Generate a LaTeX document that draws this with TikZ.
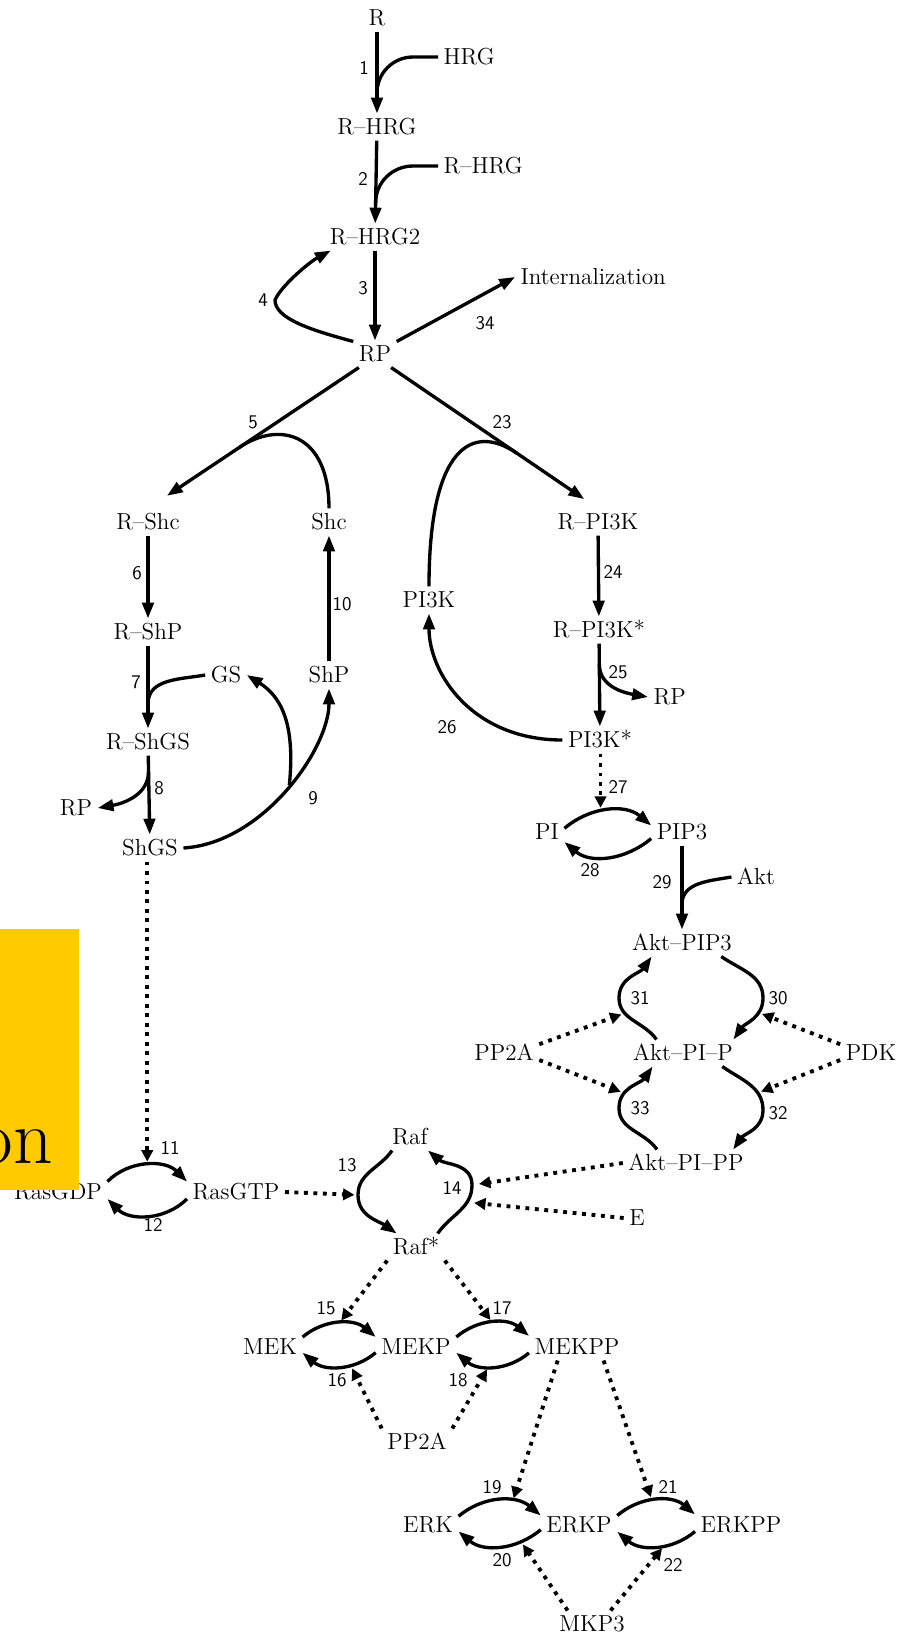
\documentclass[tikz,border=0pt]{standalone}
\usepackage{tikz}
\usetikzlibrary{arrows.meta}

\definecolor{boxyellow}{RGB}{255,203,0}

\tikzset{
  species/.style={inner sep=3pt, text height=9pt, text depth=0pt, font=\fontsize{13.2}{15}\selectfont},
  rnum/.style={inner sep=0pt, font=\sffamily\fontsize{11}{12}\selectfont},
  rx/.style={line width=1.9pt, -{Triangle[length=9pt,width=6.5pt]}},
  plain/.style={line width=1.9pt},
  cat/.style={line width=2.2pt, dash pattern=on 2.2pt off 3.2pt, -{Triangle[length=6.5pt,width=6.5pt]}, shorten >=2pt},
}

\begin{document}
\begin{tikzpicture}[x=0.02cm,y=-0.02cm]
\useasboundingbox (0,0) rectangle (915,1637);

% species
\node[species] (R) at (377,18) {R};
\node[species,anchor=west] (HRG) at (438,57) {HRG};
\node[species] (RHRG) at (377,127) {R--HRG};
\node[species,anchor=west] (RHRGb) at (438,166) {R--HRG};
\node[species] (RHRG2) at (375,237) {R--HRG2};
\node[species] (RP) at (375,354) {RP};
\node[species,anchor=west] (Intl) at (515,277) {Internalization};
\node[species] (RShc) at (148,522) {R--Shc};
\node[species] (Shc) at (329,522) {Shc};
\node[species] (RPI3K) at (598,522) {R--PI3K};
\node[species] (PI3K) at (429,600) {PI3K};
\node[species] (RShP) at (148,632) {R--ShP};
\node[species] (RPI3Ks) at (599,630) {R--PI3K*};
\node[species] (GS) at (226,675) {GS};
\node[species] (ShP) at (329,675) {ShP};
\node[species,anchor=west] (RPb) at (648,697) {RP};
\node[species] (RShGS) at (148,742) {R--ShGS};
\node[species] (PI3Ks) at (600,740) {PI3K*};
\node[species] (RPa) at (76,808) {RP};
\node[species] (ShGS) at (150,848) {ShGS};
\node[species] (PI) at (547,832) {PI};
\node[species] (PIP3) at (682,832) {PIP3};
\node[species] (Akt) at (756,877) {Akt};
\node[species] (AktPIP3) at (682,943) {Akt--PIP3};
\node[species] (PP2Aa) at (504,1053) {PP2A};
\node[species] (AktPIP) at (683,1053) {Akt--PI--P};
\node[species] (PDK) at (871,1053) {PDK};
\node[species] (AktPIPP) at (686,1163) {Akt--PI--PP};
\node[species] (Raf) at (410,1137) {Raf};
\node[species] (RasGDP) at (58,1192) {RasGDP};
\node[species] (RasGTP) at (236,1192) {RasGTP};
\node[species] (E) at (637,1218) {E};
\node[species] (Rafs) at (416,1247) {Raf*};
\node[species] (MEK) at (270,1347) {MEK};
\node[species] (MEKP) at (416,1347) {MEKP};
\node[species] (MEKPP) at (577,1347) {MEKPP};
\node[species] (PP2Ab) at (417,1442) {PP2A};
\node[species] (ERK) at (428,1525) {ERK};
\node[species] (ERKP) at (579,1525) {ERKP};
\node[species] (ERKPP) at (741,1525) {ERKPP};
\node[species] (MKP3) at (592,1624) {MKP3};

% reaction numbers
\node[rnum] (n1) at (364,68) {1};     \node[rnum] (n2) at (363,179) {2};
\node[rnum] (n3) at (363,288) {3};    \node[rnum] (n4) at (263,300) {4};
\node[rnum] (n34) at (485,323) {34};  \node[rnum] (n5) at (253,422) {5};
\node[rnum] (n23) at (502,422) {23};  \node[rnum] (n6) at (137,573) {6};
\node[rnum] (n24) at (613,572) {24};  \node[rnum] (n10) at (342,604) {10};
\node[rnum] (n7) at (136,682) {7};    \node[rnum] (n25) at (618,672) {25};
\node[rnum] (n26) at (447,727) {26};  \node[rnum] (n8) at (159,788) {8};
\node[rnum] (n9) at (313,798) {9};    \node[rnum] (n27) at (618,787) {27};
\node[rnum] (n28) at (590,870) {28};  \node[rnum] (n29) at (662,882) {29};
\node[rnum] (n31) at (640,998) {31};  \node[rnum] (n30) at (778,998) {30};
\node[rnum] (n33) at (640,1108) {33}; \node[rnum] (n32) at (778,1113) {32};
\node[rnum] (n11) at (170,1148) {11}; \node[rnum] (n13) at (347,1165) {13};
\node[rnum] (n14) at (452,1188) {14}; \node[rnum] (n12) at (153,1225) {12};
\node[rnum] (n15) at (326,1308) {15}; \node[rnum] (n17) at (502,1308) {17};
\node[rnum] (n16) at (337,1380) {16}; \node[rnum] (n18) at (458,1380) {18};
\node[rnum] (n19) at (492,1487) {19}; \node[rnum] (n21) at (668,1487) {21};
\node[rnum] (n20) at (502,1560) {20}; \node[rnum] (n22) at (673,1565) {22};

% receptor
\draw[rx] (R) -- coordinate[pos=.75] (j1) (RHRG);
\draw[plain] (HRG.west) -- ++(-25,0) to[out=180,in=90] (j1);
\draw[rx] (RHRG) -- coordinate[pos=.75] (j2) (RHRG2);
\draw[plain] (RHRGb.west) -- ++(-25,0) to[out=180,in=90] (j2);
\draw[rx] (RHRG2) -- (RP);
\draw[rx] (RP.150) .. controls +(-45,-12) and +(0,18) .. (275,300)
          .. controls +(6,-14) and +(-22,12) .. (RHRG2.-163);
\draw[rx] (RP.30) -- (Intl.west);
\draw[rx, shorten >=13pt] (RP.-140) -- coordinate[pos=.57] (j5) (RShc.north);
\draw[rx, shorten >=9.5pt] (RP.-40) -- coordinate[pos=.61] (j23) (RPI3K.north);
\draw[plain] (Shc.north) .. controls +(0,-75) and +(41,-28) .. (j5);
\draw[plain] (PI3K.north) .. controls +(0,-140) and +(-45,-31) .. (j23);

% Shc branch
\draw[rx] (RShc) -- (RShP);
\draw[rx] (RShP) -- coordinate[pos=.7] (j7) (RShGS);
\draw[plain] (GS.west) to[out=190,in=90] (j7);
\draw[rx] (RShGS) -- coordinate[pos=.2] (j8) (ShGS);
\draw[rx] (j8) to[out=-90,in=10] (RPa.east);
\draw[rx] (ShGS.east) .. controls +(80,-5) and +(0,60) .. coordinate[pos=.52] (j9) (ShP.south);
\draw[rx] (j9) .. controls +(6,-60) and +(35,22) .. (GS.east);
\draw[rx] (ShP) -- (Shc);

% PI3K branch
\draw[rx] (RPI3K) -- (RPI3Ks);
\draw[rx] (RPI3Ks) -- coordinate[pos=.25] (j25) (PI3Ks);
\draw[rx] (j25) to[out=-90,in=170] (RPb.west);
\draw[rx] (PI3Ks.west) .. controls +(-90,0) and +(0,60) .. (PI3K.south);
\draw[rx] (PI.12) to[out=40,in=140] coordinate[pos=.42] (j27) (PIP3.168);
\draw[rx] (PIP3.-168) to[out=-140,in=-40] (PI.-30);
\draw[cat] (PI3Ks.south -| j27) -- (j27);
\draw[rx] (PIP3) -- coordinate[pos=.7] (j29) (AktPIP3);
\draw[plain] (Akt.west) to[out=190,in=90] (j29);

% Akt cycle
\draw[rx] (AktPIP3.-19) to[out=-35,in=90] (763,998) to[out=-90,in=55] coordinate[pos=.3] (t30) (AktPIP.15);
\draw[rx] (AktPIP.153) to[out=125,in=-90] coordinate[pos=.7] (t31) (619,998) to[out=90,in=-125] (AktPIP3.-156);
\draw[rx] (AktPIP.-19) to[out=-35,in=90] coordinate[pos=.7] (t32) (763,1110) to[out=-90,in=55] (AktPIPP.16);
\draw[rx] (AktPIPP.155) to[out=125,in=-90] (619,1108) to[out=90,in=-125] coordinate[pos=.3] (t33) (AktPIP.-156);
\draw[cat] ([yshift=5pt]PP2Aa.east) -- (t31);
\draw[cat] ([yshift=-4pt]PP2Aa.east) -- (t33);
\draw[cat] ([yshift=5pt]PDK.west) -- (t30);
\draw[cat] ([yshift=-4pt]PDK.west) -- (t32);

% Ras and Raf
\draw[rx] (RasGDP.12) to[out=45,in=135] coordinate[pos=.5] (t11) (RasGTP.168);
\draw[rx] (RasGTP.-172) to[out=-135,in=-45] (RasGDP.-8);
\draw[cat] (ShGS.south -| t11) -- (t11);
\draw[rx] (Raf.-143) to[out=-125,in=90] (358,1195) coordinate (b13) to[out=-90,in=145] (Rafs.145);
\draw[rx] (Rafs.32) to[out=55,in=-90] coordinate[pos=.7] (t14) (472,1185) coordinate (b14) to[out=90,in=-40] (Raf.-37);
\draw[cat] (RasGTP.east) -- (b13);
\draw[cat, shorten >=4pt] (AktPIPP.west) -- (b14);
\draw[cat, shorten >=4pt] (E.west) -- (t14);

% MEK
\draw[rx] (MEK.17) to[out=40,in=140] coordinate[pos=.5] (t15) (MEKP.166);
\draw[rx] (MEKP.-172) to[out=-140,in=-40] coordinate[pos=.35] (t16) (MEK.-10);
\draw[rx] (MEKP.14) to[out=40,in=140] coordinate[pos=.5] (t17) (MEKPP.167);
\draw[rx] (MEKPP.-173) to[out=-140,in=-40] coordinate[pos=.55] (t18) (MEKP.-8);
\draw[cat] (Rafs.south west) -- (t15);
\draw[cat] (Rafs.south east) -- (t17);
\draw[cat] (PP2Ab.north west) -- (t16);
\draw[cat] (PP2Ab.north east) -- (t18);

% ERK
\draw[rx] (ERK.16) to[out=40,in=140] coordinate[pos=.65] (t19) (ERKP.166);
\draw[rx] (ERKP.-173) to[out=-140,in=-40] coordinate[pos=.25] (t20) (ERK.-12);
\draw[rx] (ERKP.14) to[out=40,in=140] coordinate[pos=.45] (t21) (ERKPP.167);
\draw[rx] (ERKPP.-172) to[out=-140,in=-40] coordinate[pos=.4] (t22) (ERKP.-10);
\draw[cat] (MEKPP.-145) -- (t19);
\draw[cat] (MEKPP.-27) -- (t21);
\draw[cat] (MKP3.151) -- (t20);
\draw[cat] (MKP3.36) -- (t22);

% yellow tab
\fill[boxyellow] (0,929) rectangle (79,1190);
\begin{scope}
  \clip (0,929) rectangle (79,1190);
  \node[anchor=base east, inner sep=0pt, font=\fontsize{44}{48}\selectfont] (tab) at (53,1163) {on};
\end{scope}
\end{tikzpicture}
\end{document}
